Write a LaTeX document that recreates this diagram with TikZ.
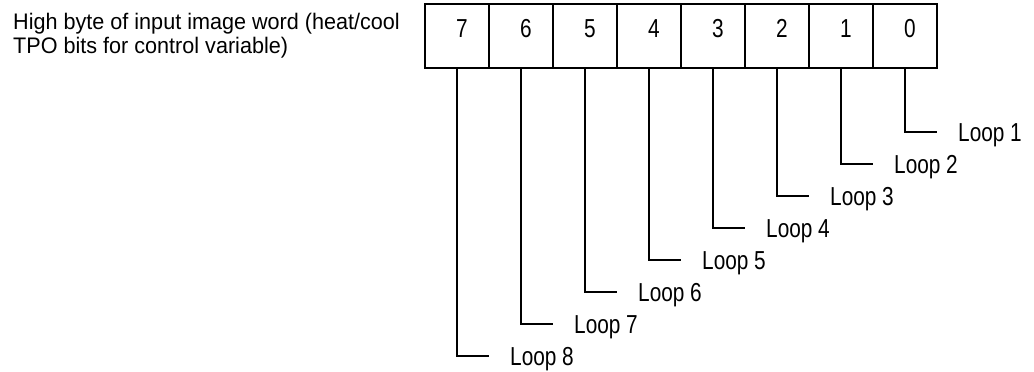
\documentclass[tikz,border=0pt]{standalone}
\usepackage{fontspec}
\setmainfont{Liberation Sans}
\newfontfamily\narrowfont[FakeStretch=0.8]{Liberation Sans}
\newfontfamily\titlefont[FakeStretch=0.96]{Liberation Sans}
\usepackage{tikz}
\usetikzlibrary{positioning}
\tikzset{
  bitcell/.style = {rectangle, draw=black, line width=2.4pt, inner sep=0pt,
    minimum width=64pt, minimum height=64pt, text height=18.6pt, text depth=16pt,
    font=\narrowfont\fontsize{26}{30}\selectfont,
    execute at begin node={\hspace*{10pt}}},
  loop_node/.style = {anchor=west, inner ysep=0pt, inner xsep=21pt,
    text height=18.6pt, text depth=0pt,
    font=\narrowfont\fontsize{26}{30}\selectfont},
  title_node/.style = {anchor=north west, inner sep=0pt, align=left,
    font=\titlefont\fontsize{22.5}{24}\selectfont},
  leader/.style = {draw=black, line width=1.1pt}
}
\begin{document}
\begin{tikzpicture}[x=1pt, y=-1pt]
  \useasboundingbox (0,0) rectangle (1034,372);
  % title
  \node[title_node] (title) at (13,12.5)
    {High byte of input image word (heat/cool\\TPO bits for control variable)};
  % the byte
  \foreach \b in {7,...,0}{
    \node[bitcell] (bit\b) at ({457+64*(7-\b)},36) {\b};
  }
  % loop labels and leaders
  \foreach \b [evaluate=\b as \k using int(\b+1)] in {0,...,7}{
    \node[loop_node] (loop\k) at ({457+64*(7-\b)+32},{132+32*\b}) {Loop \k};
    \draw[leader] (bit\b.south) |- (loop\k.west);
  }
\end{tikzpicture}
\end{document}
